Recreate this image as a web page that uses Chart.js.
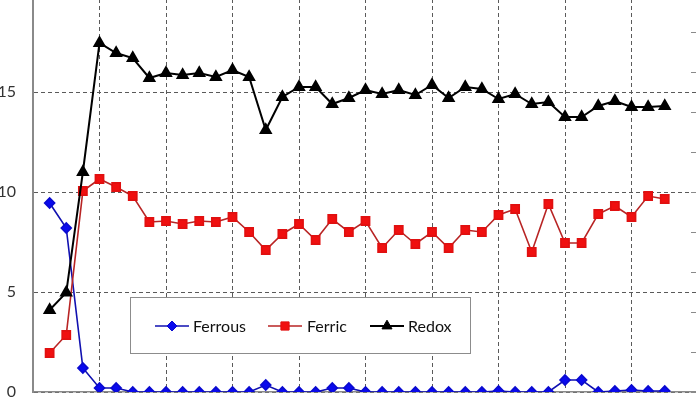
<!DOCTYPE html>
<html>
<head>
<meta charset="utf-8">
<script src="https://cdn.jsdelivr.net/npm/chart.js@4.4.0/dist/chart.umd.min.js"></script>
<style>
  html, body { margin: 0; padding: 0; background: #fff; overflow: hidden; }
  body { width: 696px; height: 399px; position: relative; }
  #redoxChart { position: absolute; left: 0; top: -30px; }
</style>
</head>
<body>
<canvas id="redoxChart" width="740" height="450"></canvas>
<script>
// sample number along the x axis
const sampleNo = [1, 2, 3, 4, 5, 6, 7, 8, 9, 10, 11, 12, 13, 14, 15, 16, 17, 18, 19,
  20, 21, 22, 23, 24, 25, 26, 27, 28, 29, 30, 31, 32, 33, 34, 35, 36, 37, 38];

const ferrous = [9.45, 8.2, 1.2, 0.2, 0.2, 0, 0, 0, 0, 0, 0, 0, 0, 0.35, 0, 0, 0, 0.2, 0.2,
  0, 0, 0, 0, 0, 0, 0, 0, 0.05, 0, 0, 0, 0.6, 0.6, 0, 0.05, 0.1, 0.05, 0.05];
const ferric = [1.95, 2.85, 10.05, 10.65, 10.25, 9.8, 8.5, 8.55, 8.4, 8.55, 8.5, 8.75, 8.0,
  7.1, 7.9, 8.4, 7.6, 8.65, 8.0, 8.55, 7.2, 8.1, 7.4, 8.0, 7.2, 8.1, 8.0, 8.85, 9.15, 7.0,
  9.4, 7.45, 7.45, 8.9, 9.3, 8.75, 9.8, 9.65];
const redox = [4.1, 4.97, 11.0, 17.45, 16.95, 16.7, 15.7, 15.95, 15.85, 15.95, 15.75, 16.1,
  15.75, 13.1, 14.75, 15.25, 15.25, 14.4, 14.7, 15.1, 14.9, 15.1, 14.85, 15.35, 14.7, 15.25,
  15.15, 14.65, 14.9, 14.4, 14.5, 13.75, 13.75, 14.3, 14.55, 14.25, 14.25, 14.3];

const seriesNames = ['Ferrous', 'Ferric', 'Redox'];
const yTicks = [0, 5, 10, 15, 20];
const xTicks = [0, 4, 8, 12, 16, 20, 24, 28, 32, 36, 40];
const y2Ticks = [0, 2, 4, 6, 8, 10, 12, 14, 16, 18, 20];

const toPoints = vals => vals.map((v, i) => ({ x: sampleNo[i], y: v }));

const GRID = '#5a5a5a';
const AXIS = '#8a8a8a';

function drawMarker(ctx, style, x, y, r, fill, stroke) {
  ctx.beginPath();
  if (style === 'rectRot') {
    ctx.moveTo(x - r, y); ctx.lineTo(x, y - r); ctx.lineTo(x + r, y); ctx.lineTo(x, y + r);
  } else if (style === 'rect') {
    const s = r * Math.SQRT1_2;
    ctx.rect(x - s, y - s, 2 * s, 2 * s);
  } else {
    ctx.moveTo(x, y - r);
    ctx.lineTo(x + r * 0.866, y + r * 0.5);
    ctx.lineTo(x - r * 0.866, y + r * 0.5);
  }
  ctx.closePath();
  ctx.fillStyle = fill;
  ctx.fill();
  ctx.strokeStyle = stroke;
  ctx.lineWidth = 1;
  ctx.stroke();
}

// legend box sits inside the plot, like the original
const insideLegend = {
  id: 'insideLegend',
  afterDatasetsDraw(chart) {
    const ctx = chart.ctx;
    const top = chart.chartArea.top + 305;
    ctx.save();
    ctx.fillStyle = '#fff';
    ctx.fillRect(130.5, top, 340, 56);
    ctx.strokeStyle = '#8c8c8c';
    ctx.lineWidth = 1;
    ctx.strokeRect(130.5, top + 0.5, 340, 56);
    const cy = top + 29;
    const items = [
      { x: 155, tx: 193 },
      { x: 268, tx: 307 },
      { x: 370, tx: 408 }
    ];
    chart.data.datasets.forEach((ds, i) => {
      const it = items[i];
      ctx.strokeStyle = ds.borderColor;
      ctx.lineWidth = ds.borderWidth;
      ctx.beginPath();
      ctx.moveTo(it.x, cy); ctx.lineTo(it.x + 34, cy);
      ctx.stroke();
      drawMarker(ctx, ds.pointStyle, it.x + 17, cy, ds.pointRadius, ds.pointBackgroundColor, ds.pointBorderColor);
      ctx.fillStyle = '#111';
      ctx.font = '16px Lato';
      ctx.textBaseline = 'middle';
      ctx.textAlign = 'left';
      ctx.fillText(ds.label, it.tx, cy + 1);
    });
    // short inward ticks of the right-hand axis
    const y2 = chart.scales.y2;
    ctx.strokeStyle = AXIS;
    ctx.lineWidth = 1;
    y2.ticks.forEach(t => {
      const py = Math.round(y2.getPixelForValue(t.value)) + 0.5;
      ctx.beginPath();
      ctx.moveTo(chart.chartArea.right - 7, py);
      ctx.lineTo(chart.chartArea.right, py);
      ctx.stroke();
    });
    ctx.restore();
  }
};

const noPad = s => { s.paddingTop = 0; s.paddingBottom = 0; s.paddingLeft = 0; s.paddingRight = 0; };

Chart.defaults.font.family = 'Lato';
Chart.defaults.font.size = 16;
Chart.defaults.color = '#333';

const ctx = document.getElementById('redoxChart').getContext('2d');
new Chart(ctx, {
  type: 'line',
  data: {
    datasets: [
      {
        label: seriesNames[0],
        data: toPoints(ferrous),
        borderColor: '#1010b0',
        borderWidth: 1.6,
        pointStyle: 'rectRot',
        pointRadius: 5,
        pointBackgroundColor: '#0a0aee',
        pointBorderColor: '#0a0ad0',
        order: 3
      },
      {
        label: seriesNames[1],
        data: toPoints(ferric),
        borderColor: '#b82424',
        borderWidth: 1.6,
        pointStyle: 'rect',
        pointRadius: 5.8,
        pointBackgroundColor: '#f01010',
        pointBorderColor: '#e01010',
        order: 2
      },
      {
        label: seriesNames[2],
        data: toPoints(redox),
        borderColor: '#000',
        borderWidth: 2,
        pointStyle: 'triangle',
        pointRadius: 5.8,
        pointBackgroundColor: '#000',
        pointBorderColor: '#000',
        order: 1
      }
    ]
  },
  options: {
    responsive: false,
    animation: false,
    layout: { padding: { top: 22, left: 0, right: 0, bottom: 0 } },
    plugins: {
      legend: { display: false },
      tooltip: { enabled: false }
    },
    scales: {
      x: {
        type: 'linear',
        min: xTicks[0],
        max: xTicks[xTicks.length - 1],
        afterBuildTicks: s => { s.ticks = xTicks.map(v => ({ value: v })); },
        ticks: { display: false },
        grid: { color: GRID, lineWidth: 1, drawTicks: false },
        border: { display: true, color: AXIS, width: 1.5, dash: [4, 3] },
        afterFit: s => { s.height = 28; noPad(s); }
      },
      y: {
        position: 'left',
        min: yTicks[0],
        max: yTicks[yTicks.length - 1],
        afterBuildTicks: s => { s.ticks = yTicks.map(v => ({ value: v })); },
        ticks: { padding: 17, color: '#333', font: { size: 16 } },
        grid: { color: GRID, lineWidth: 1, drawTicks: false },
        border: { display: true, color: AXIS, width: 2, dash: [4, 3] },
        afterFit: s => { s.width = 33; noPad(s); }
      },
      y2: {
        position: 'right',
        min: y2Ticks[0],
        max: y2Ticks[y2Ticks.length - 1],
        afterBuildTicks: s => { s.ticks = y2Ticks.map(v => ({ value: v })); },
        ticks: { display: false },
        grid: { drawOnChartArea: false, drawTicks: false },
        border: { display: false },
        afterFit: s => { s.width = 42; noPad(s); }
      }
    }
  },
  plugins: [insideLegend]
});
</script>
</body>
</html>
